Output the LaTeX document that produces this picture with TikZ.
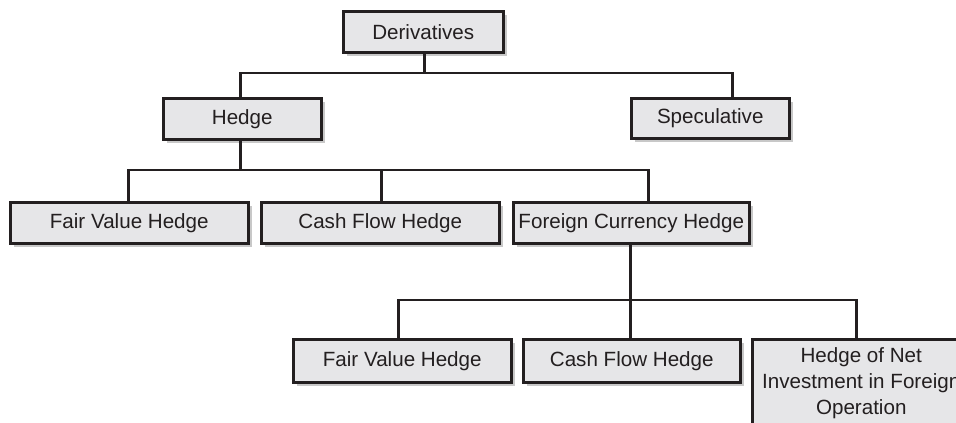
\documentclass[tikz,border=0pt]{standalone}
\usepackage{fontspec}
\setmainfont{Liberation Sans}
\usetikzlibrary{shadows}
\definecolor{boxfill}{HTML}{E6E6E8}
\definecolor{ink}{HTML}{231F20}
\definecolor{shade}{HTML}{C8C8C8}
\tikzset{
  box/.style={rectangle, draw=ink, line width=2.5pt, fill=boxfill, text=ink,
    anchor=north west, inner sep=0pt, align=center,
    font=\fontsize{20.6pt}{26pt}\selectfont,
    drop shadow={shadow xshift=4pt, shadow yshift=-4pt, fill=shade, opacity=1}},
  conn/.style={draw=ink, line width=2.5pt}
}
\begin{document}
\begin{tikzpicture}[x=1pt,y=-1pt]
\useasboundingbox (0,0) rectangle (956,423);
\clip (0,0) rectangle (956,423);
% nodes
\node[box, minimum width=160pt, minimum height=41pt] (der) at (342,10) {Derivatives};
\node[box, minimum width=158pt, minimum height=41pt] (hedge) at (162,97) {Hedge};
\node[box, minimum width=158pt, minimum height=40pt] (spec) at (630,97) {Speculative};
\node[box, minimum width=238pt, minimum height=41pt] (fvh1) at (9,201) {Fair Value Hedge};
\node[box, minimum width=238pt, minimum height=41pt] (cfh1) at (260,201) {Cash Flow Hedge};
\node[box, minimum width=236pt, minimum height=41pt] (fch) at (512,201) {Foreign Currency Hedge};
\node[box, minimum width=218pt, minimum height=43pt] (fvh2) at (292,338) {Fair Value Hedge};
\node[box, minimum width=217pt, minimum height=43pt] (cfh2) at (522,338) {Cash Flow Hedge};
\node[box, minimum width=218pt, minimum height=88pt] (hon) at (751,338) {Hedge of Net\\Investment in Foreign\\Operation};
% bus levels
\coordinate (b1) at (0,73);
\coordinate (b2) at (0,170);
\coordinate (b3) at (0,300);
% stem points
\coordinate (derS) at ([xshift=1pt]der.south);
\coordinate (hedgeN) at ([xshift=-2pt]hedge.north);
\coordinate (specN) at ([xshift=22pt]spec.north);
\coordinate (hedgeS) at ([xshift=-2pt]hedge.south);
\coordinate (fvhA) at ([xshift=-1pt]fvh1.north);
\coordinate (cfhA) at ([xshift=1pt]cfh1.north);
\coordinate (fchN) at ([xshift=17pt]fch.north);
\coordinate (fchS) at ([xshift=-1pt]fch.south);
\coordinate (fvhB) at ([xshift=-4pt]fvh2.north);
\coordinate (cfhB) at ([xshift=-1.5pt]cfh2.north);
\coordinate (honN) at ([xshift=-5pt]hon.north);
% connectors
\draw[conn] (derS) -- (derS |- b1);
\draw[conn] (hedgeN) |- (specN |- b1) -- (specN);
\draw[conn] (hedgeS) -- (hedgeS |- b2);
\draw[conn] (fvhA) |- (fchN |- b2) -- (fchN);
\draw[conn] (cfhA) -- (cfhA |- b2);
\draw[conn] (fchS) -- (fchS |- b3);
\draw[conn] (fvhB) |- (honN |- b3) -- (honN);
\draw[conn] (cfhB) -- (cfhB |- b3);
\end{tikzpicture}
\end{document}
